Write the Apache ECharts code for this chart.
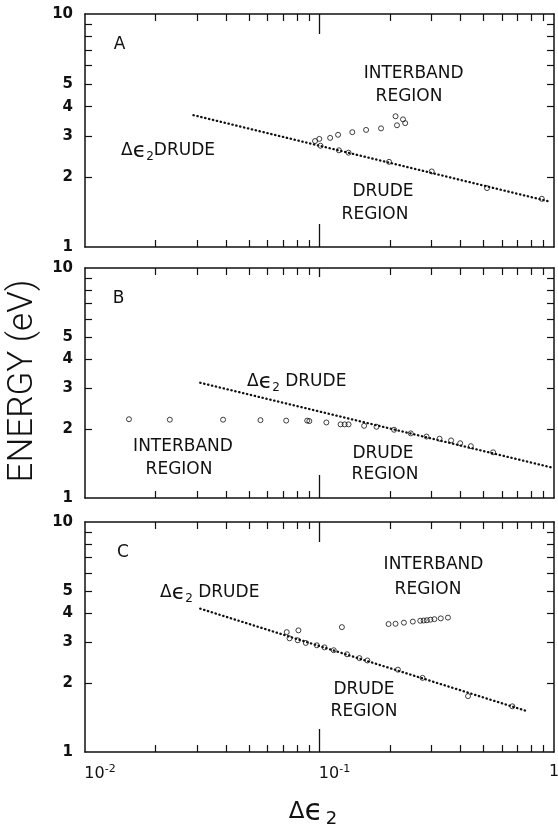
<!DOCTYPE html>
<html><head><meta charset="utf-8">
<script src="https://cdn.jsdelivr.net/npm/echarts@6/dist/echarts.min.js"></script>
<style>html,body{margin:0;padding:0;background:#fff}#c{width:558px;height:827px}</style>
</head><body><div id="c"></div>
<script>
// ---- tick positions / labels ----
const xMinorTicks = [0.02,0.03,0.04,0.05,0.06,0.07,0.08,0.09,0.2,0.3,0.4,0.5,0.6,0.7,0.8,0.9];
const xMajorTicks = [0.1];
const xTickLabels = [0.01, 0.1, 1];
const yMinorTicks = [2,3,4,5,6,7,8,9];
const yTickLabels = [1,2,3,4,5,10];

// ---- panel A ----
const aInterband = [[0.0957,2.85],[0.0998,2.91],[0.111,2.94],[0.120,3.03],[0.138,3.11],[0.158,3.18],[0.183,3.23],[0.211,3.64],[0.214,3.33],[0.227,3.53],[0.232,3.40]];
const aDrude = [[0.101,2.72],[0.121,2.60],[0.133,2.54],[0.198,2.32],[0.301,2.11],[0.518,1.79],[0.887,1.61]];
const aDrudeLine = [[0.029,3.68],[0.95,1.57]];

// ---- panel B ----
const bPoints = [[0.0154,2.20],[0.0230,2.19],[0.0388,2.19],[0.0560,2.18],[0.0721,2.17],[0.0886,2.17],[0.0905,2.16],[0.107,2.13],[0.123,2.09],[0.128,2.09],[0.133,2.09],[0.155,2.06],[0.175,2.04],[0.208,1.98],[0.245,1.91],[0.286,1.85],[0.325,1.81],[0.364,1.78],[0.398,1.73],[0.442,1.68],[0.550,1.58]];
const bDrudeLine = [[0.031,3.17],[0.97,1.36]];

// ---- panel C ----
const cInterband = [[0.0813,3.38],[0.1246,3.49],[0.197,3.60],[0.211,3.61],[0.229,3.65],[0.250,3.69],[0.269,3.72],[0.278,3.73],[0.287,3.74],[0.297,3.76],[0.309,3.78],[0.329,3.81],[0.353,3.84]];
const cDrude = [[0.0725,3.32],[0.0745,3.12],[0.0808,3.06],[0.0874,2.98],[0.0974,2.91],[0.105,2.85],[0.115,2.77],[0.131,2.66],[0.148,2.56],[0.160,2.50],[0.216,2.28],[0.275,2.10],[0.430,1.75],[0.664,1.58]];
const cDrudeLine = [[0.031,4.20],[0.76,1.51]];

const panels = [
  {circles: [aInterband, aDrude], line: aDrudeLine},
  {circles: [bPoints], line: bDrudeLine},
  {circles: [cInterband, cDrude], line: cDrudeLine}
];

const INK = '#111';
const FONT = 'DejaVu Sans';
const gridBase = {left:85, width:469, containLabel:false, outerBoundsMode:'none'};
const grids = [
  Object.assign({top:14, height:233}, gridBase),
  Object.assign({top:268, height:230}, gridBase),
  Object.assign({top:522, height:230}, gridBase)
];

const xAxes = [], yAxes = [], series = [];
const lineSt = {color: INK, width: 1.5};
grids.forEach((g, i) => {
  const base = {gridIndex:i, type:'log', logBase:10, min:0.01, max:1, splitLine:{show:false}, minorTick:{show:false}};
  xAxes.push(Object.assign({}, base, {position:'bottom',
    axisLine:{show:true, onZero:false, lineStyle:lineSt},
    axisTick:{show:true, inside:true, length:7, customValues:xMinorTicks, lineStyle:{color:INK, width:1.2}},
    axisLabel: i === 2 ? {show:true, customValues:xTickLabels, align:'center', margin:12,
      formatter: v => v === 1 ? '{o|1}' : '{b|10}{s|' + Math.round(Math.log10(v)) + '}',
      rich:{b:{fontSize:16, fontFamily:FONT, color:INK, padding:[0,0,0,30]},
            o:{fontSize:16, fontFamily:FONT, color:INK},
            s:{fontSize:11, fontFamily:FONT, color:INK, padding:[0,0,9,0]}}} : {show:false}
  }));
  xAxes.push(Object.assign({}, base, {position:'top',
    axisLine:{show:true, onZero:false, lineStyle:lineSt},
    axisTick:{show:true, inside:true, length:7, customValues:xMinorTicks, lineStyle:{color:INK, width:1.2}},
    axisLabel:{show:false}}));
  xAxes.push(Object.assign({}, base, {position:'bottom',
    axisLine:{show:false},
    axisTick:{show:true, inside:true, length:23, customValues:xMajorTicks, lineStyle:{color:INK, width:1.3}},
    axisLabel:{show:false}}));
  xAxes.push(Object.assign({}, base, {position:'top',
    axisLine:{show:false},
    axisTick:{show:true, inside:true, length: i === 1 ? 9 : 20, customValues:xMajorTicks, lineStyle:{color:INK, width:1.3}},
    axisLabel:{show:false}}));
  const ybase = {gridIndex:i, type:'log', logBase:10, min:1, max:10, splitLine:{show:false}, minorTick:{show:false}};
  yAxes.push(Object.assign({}, ybase, {position:'left',
    axisLine:{show:true, onZero:false, lineStyle:lineSt},
    axisTick:{show:true, inside:true, length:7, customValues:yMinorTicks, lineStyle:{color:INK, width:1.2}},
    axisLabel:{show:true, customValues:yTickLabels, margin:12, fontSize:15, fontWeight:'bold', fontFamily:FONT, color:INK}}));
  yAxes.push(Object.assign({}, ybase, {position:'right',
    axisLine:{show:true, onZero:false, lineStyle:lineSt},
    axisTick:{show:true, inside:true, length:7, customValues:yMinorTicks, lineStyle:{color:INK, width:1.2}},
    axisLabel:{show:false}}));

  const p = panels[i];
  series.push({type:'line', xAxisIndex:4*i, yAxisIndex:2*i, data:p.line, symbol:'none', silent:true,
    lineStyle:{color:INK, width:2.3, type:[0.4, 3.6], cap:'round'}, z:2});
  p.circles.forEach(arr => series.push({type:'scatter', xAxisIndex:4*i, yAxisIndex:2*i, data:arr,
    symbol:'circle', symbolSize:5, itemStyle:{color:'rgba(255,255,255,0)', borderColor:INK, borderWidth:1}, z:3}));
});

function T(x, y, text, align) {
  return {type:'text', x:x, y:y, z:10, style:{text:text, fontSize:17, fontFamily:FONT, fill:INK,
    textAlign: align || 'center', textVerticalAlign:'middle'}};
}
function DE(x, y, gap) {
  return {type:'text', x:x, y:y, z:10, style:{
    text:'{d|Δ}{e|ϵ}{s|2}{d|' + (gap ? ' ' : '') + 'DRUDE}',
    textAlign:'left', textVerticalAlign:'middle',
    rich:{d:{fontSize:17, fontFamily:FONT, fill:INK},
          e:{fontSize:22, fontFamily:FONT, fill:INK},
          s:{fontSize:12, fontFamily:FONT, fill:INK, padding:[12,0,0,0]}}}};
}
const graphics = [
  T(119.5, 45, 'A'), T(413.6, 74, 'INTERBAND'), T(409, 97, 'REGION'),
  T(383, 192, 'DRUDE'), T(375, 215, 'REGION'), DE(121, 151, false),
  T(118.6, 299, 'B'), DE(247, 382, true), T(183, 447, 'INTERBAND'), T(179, 470, 'REGION'),
  T(383, 454, 'DRUDE'), T(385, 475, 'REGION'),
  T(123, 553, 'C'), T(433.5, 565, 'INTERBAND'), T(428, 590, 'REGION'), DE(160, 593, true),
  T(364, 690, 'DRUDE'), T(364, 712, 'REGION'),
  {type:'text', x:23, y:381, rotation:Math.PI/2, z:10, style:{text:'ENERGY (eV)', fontSize:35, fontFamily:'Roboto', fontWeight:300, fill:INK, textAlign:'center', textVerticalAlign:'middle'}},
  {type:'text', x:313, y:812, z:10, style:{text:'{d|Δ}{e|ϵ}{s|2}', textAlign:'center', textVerticalAlign:'middle',
    rich:{d:{fontSize:23, fontFamily:FONT, fill:INK}, e:{fontSize:30, fontFamily:FONT, fill:INK},
          s:{fontSize:18, fontFamily:FONT, fill:INK, padding:[14,0,0,3]}}}}
];

const chart = echarts.init(document.getElementById('c'), null, {renderer:'canvas'});
chart.setOption({
  animation:false, backgroundColor:'#fff',
  grid: grids, xAxis: xAxes, yAxis: yAxes, series: series, graphic: graphics
});
</script>
</body></html>
